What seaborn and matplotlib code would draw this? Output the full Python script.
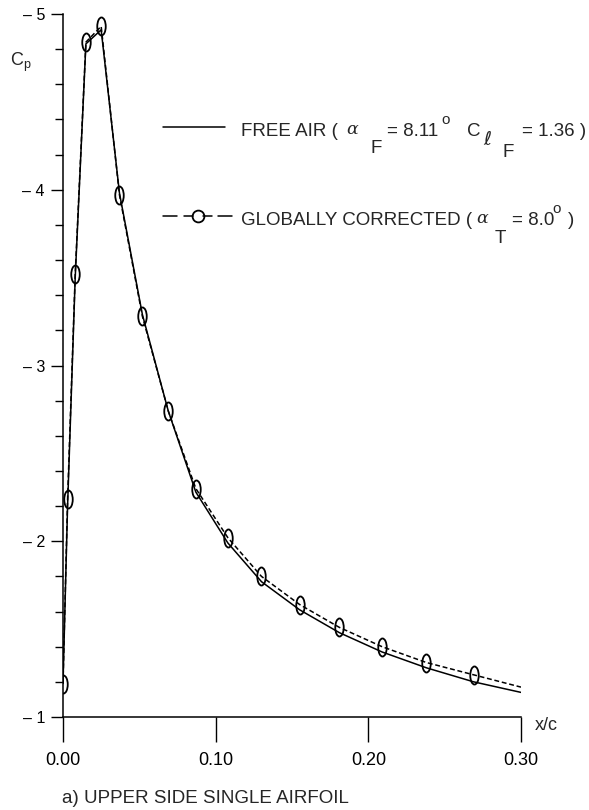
import numpy as np
import matplotlib
matplotlib.use("Agg")
import matplotlib.pyplot as plt
import seaborn as sns
from matplotlib.path import Path
from matplotlib.transforms import Affine2D
from matplotlib.ticker import FixedLocator, MultipleLocator, FuncFormatter
from matplotlib.lines import Line2D

# ---- data ----
x_station = [0.000, 0.003, 0.008, 0.015, 0.025, 0.037, 0.052, 0.069, 0.087,
             0.108, 0.130, 0.155, 0.181, 0.209, 0.238, 0.269, 0.300]
cp_free_air = [-1.19, -2.20, -3.50, -4.83, -4.91, -3.98, -3.29, -2.74, -2.28,
               -1.99, -1.77, -1.61, -1.48, -1.37, -1.28, -1.20, -1.14]
cp_corrected = [-1.19, -2.24, -3.52, -4.84, -4.93, -3.97, -3.28, -2.74, -2.30,
                -2.02, -1.80, -1.64, -1.51, -1.40, -1.31, -1.24, -1.17]
n_measured = 16  # corrected-curve points carrying a marker
x_ticks = [0.00, 0.10, 0.20, 0.30]
x_tick_labels = ["0.00", "0.10", "0.20", "0.30"]
y_ticks = [-1, -2, -3, -4, -5]

sns.set_theme(style="ticks")
plt.rcParams["font.family"] = ["Liberation Sans", "DejaVu Sans"]
plt.rcParams["mathtext.fontset"] = "custom"
plt.rcParams["mathtext.rm"] = "Liberation Sans"
plt.rcParams["mathtext.it"] = "Liberation Sans:italic"
plt.rcParams["mathtext.sf"] = "Liberation Sans"

W, H = 589, 810
fig = plt.figure(figsize=(W / 100, H / 100), dpi=100)
fig.patch.set_facecolor("white")

def fx(px):
    return px / W

def fy(py):
    return 1 - py / H

ax = fig.add_axes([fx(63), fy(717), (521 - 63) / W, (717 - 14) / H])
ax.set_facecolor("white")

ellipse = Path.unit_circle().transformed(Affine2D().scale(0.47, 1.0))

sns.lineplot(x=x_station, y=cp_free_air, ax=ax, sort=False, estimator=None,
             color="black", linewidth=1.1)
sns.lineplot(x=x_station, y=cp_corrected, ax=ax, sort=False, estimator=None,
             color="black", linewidth=1.1, linestyle=(0, (3.2, 1.8)),
             marker=ellipse, markersize=13, markerfacecolor="none",
             markeredgecolor="black", markeredgewidth=1.3,
             markevery=list(range(n_measured)))

ax.set_xlim(0, 0.30)
ax.set_ylim(-1, -5)
ax.set_xlabel("")
ax.set_ylabel("")

for s in ["top", "right"]:
    ax.spines[s].set_visible(False)
for s in ["left", "bottom"]:
    ax.spines[s].set_linewidth(1.1)
    ax.spines[s].set_color("black")

ax.xaxis.set_major_locator(FixedLocator(x_ticks))
ax.set_xticklabels(x_tick_labels)
ax.tick_params(axis="x", which="major", direction="out", length=18, width=1.0,
               pad=7, labelsize=13, color="black", labelcolor="black")
ax.yaxis.set_major_locator(FixedLocator(y_ticks))
ax.yaxis.set_minor_locator(MultipleLocator(0.2))
ax.yaxis.set_major_formatter(FuncFormatter(lambda v, p: "\u2013 %d" % abs(round(v))))
ax.tick_params(axis="y", which="major", direction="out", length=9, width=1.0,
               pad=4, labelsize=11.5, color="black", labelcolor="black")
ax.tick_params(axis="y", which="minor", direction="out", length=6, width=1.0,
               color="black")
ax.grid(False)

# axis titles
fig.text(fx(10), fy(66), r"C$_{\rm p}$", fontsize=13, va="baseline", ha="left")
fig.text(fx(535), fy(730), "x/c", fontsize=13, va="baseline", ha="left")

# ---- legend (figure-level decorations) ----
def put(px, py, s, size=13.5, **kw):
    fig.text(fx(px), fy(py), s, fontsize=size, va="baseline", ha="left", **kw)

fig.add_artist(Line2D([fx(163), fx(225)], [fy(127), fy(127)],
                      transform=fig.transFigure, color="black", linewidth=1.1))
put(241, 136, "FREE AIR (")
put(346, 134, "\u03b1", size=12.5, style="italic", fontfamily=["DejaVu Serif"])
put(370, 153, "F")
put(387, 136, "= 8.11")
put(441, 124, "o", size=11)
put(467, 136, "C")
put(483, 145, "\u2113", size=14, fontfamily=["DejaVu Sans", "DejaVu Serif"])
put(502, 157, "F")
put(522, 136, "= 1.36 )")

for a, b in [(163, 177), (184, 193), (203, 212), (218, 232)]:
    fig.add_artist(Line2D([fx(a), fx(b)], [fy(216), fy(216)],
                          transform=fig.transFigure, color="black", linewidth=1.1))
fig.add_artist(Line2D([fx(198)], [fy(216)], transform=fig.transFigure,
                      marker="o", markersize=8.5, markerfacecolor="none",
                      markeredgecolor="black", markeredgewidth=1.3, linestyle="none"))
put(241, 225, "GLOBALLY CORRECTED (")
put(476, 223, "\u03b1", size=12.5, style="italic", fontfamily=["DejaVu Serif"])
put(495, 243, "T")
put(512, 225, "= 8.0")
put(552, 213, "o", size=11)
put(568, 225, ")")

# caption
put(62, 803, "a) UPPER SIDE SINGLE AIRFOIL")

fig.savefig("out.png", dpi=100, facecolor="white")
